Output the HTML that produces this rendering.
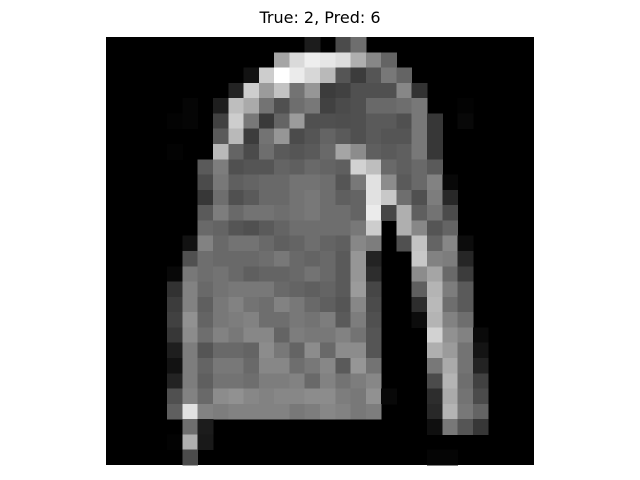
<!DOCTYPE html>
<html><head><meta charset="utf-8"><style>
html,body{margin:0;padding:0;background:#fff;width:640px;height:480px;overflow:hidden}
</style></head><body>
<svg id="chart" width="640" height="480" xmlns="http://www.w3.org/2000/svg">
<rect width="640" height="480" fill="#fff"/>
<text x="320" y="23" text-anchor="middle" font-family="DejaVu Sans, Liberation Sans, sans-serif" font-size="16" fill="#000">True: 2, Pred: 6</text>
<g id="cells" shape-rendering="crispEdges"></g>
</svg>
<script>
const rowsTop = [
[0,0,0,0,0,0,0,0,0,0,0,0,0,28,0,75,110,0,0,0,0,0,0,0,0,0,0,0],
[0,0,0,0,0,0,0,0,0,0,0,165,218,238,230,220,175,135,100,0,0,0,0,0,0,0,0,0],
[0,0,0,0,0,0,0,0,0,18,205,255,235,215,185,85,60,85,120,100,0,0,0,0,0,0,0,0],
[0,0,0,0,0,0,0,0,35,205,155,195,115,150,60,65,80,80,80,135,50,0,0,0,0,0,0,0],
[0,0,0,0,0,5,0,30,190,170,115,80,110,120,65,75,80,105,105,110,120,0,0,3,0,0,0,0],
[0,0,0,0,3,5,0,65,205,120,58,100,155,80,80,78,80,90,90,80,120,55,0,8,0,0,0,0],
[0,0,0,0,0,0,0,90,185,60,115,150,75,85,100,90,80,90,85,85,120,55,0,0,0,0,0,0],
[0,0,0,0,3,0,0,185,100,75,110,90,85,90,105,165,140,95,90,95,120,55,0,0,0,0,0,0],
[0,0,0,0,0,0,90,125,80,85,85,100,95,105,100,95,210,190,105,95,105,90,0,0,0,0,0,0],
[0,0,0,0,0,0,75,120,95,100,105,105,115,115,110,85,120,225,140,90,105,130,8,0,0,0,0,0],
[0,0,0,0,0,0,55,110,80,90,105,105,115,120,110,95,100,225,200,110,80,125,40,0,0,0,0,0],
[0,0,0,0,0,0,90,125,105,115,115,110,115,120,110,110,100,235,70,175,95,115,75,0,0,0,0,0],
[0,0,0,0,0,0,105,100,85,80,90,100,110,110,110,110,120,205,0,175,135,85,100,0,0,0,0,0],
[0,0,0,0,0,18,130,105,115,115,105,95,100,110,100,95,135,125,0,80,195,100,135,12,0,0,0,0]
];
const rowsBottom = [
[0,0,0,0,0,80,110,105,105,105,110,120,105,100,105,90,150,35,0,0,200,130,125,38,0,0,0,0],
[0,0,0,0,8,120,110,115,105,95,100,100,105,115,105,90,150,45,0,0,140,165,105,60,0,0,0,0],
[0,0,0,0,50,130,105,115,120,120,120,105,100,95,100,90,155,70,0,0,95,180,125,90,0,0,0,0],
[0,0,0,0,60,130,95,120,130,115,110,130,120,105,95,85,135,75,0,0,45,185,110,90,0,0,0,0],
[0,0,0,0,65,145,100,120,125,130,110,110,120,115,125,90,125,80,0,0,12,180,130,110,0,0,0,0],
[0,0,0,0,55,140,110,130,120,135,135,100,125,120,120,130,115,85,0,0,0,210,145,130,10,0,0,0],
[0,0,0,0,30,125,85,105,105,100,140,120,100,140,105,140,140,85,0,0,0,175,155,115,20,0,0,0],
[0,0,0,0,18,125,100,120,120,105,135,135,110,120,135,90,150,115,0,0,0,120,170,115,35,0,0,0],
[0,0,0,0,35,125,95,115,115,110,125,125,130,105,130,115,125,135,0,0,0,75,180,110,65,0,0,0],
[0,0,0,0,80,130,105,140,145,135,130,135,135,140,140,125,120,145,8,0,0,45,170,115,75,0,0,0],
[0,0,0,0,95,225,130,125,130,130,130,130,120,125,135,130,120,125,0,0,0,40,180,120,100,0,0,0],
[0,0,0,0,0,110,28,0,0,0,0,0,0,0,0,0,0,0,0,0,0,15,120,85,55,0,0,0],
[0,0,0,0,3,175,25,0,0,0,0,0,0,0,0,0,0,0,0,0,0,0,0,0,0,0,0,0],
[0,0,0,0,0,75,0,0,0,0,0,0,0,0,0,0,0,0,0,0,0,5,5,0,0,0,0,0]
];
const pixels = rowsTop.concat(rowsBottom);
const x0 = 106, y0 = 37, size = 428;
const n = 28;
function xPos(c){ return x0 + c * size / n; }
function yPos(r){ return y0 + r * size / n; }
const g = document.getElementById('cells');
const NS = 'http://www.w3.org/2000/svg';
const bg = document.createElementNS(NS, 'rect');


bg.setAttribute('x', x0); bg.setAttribute('y', y0);
bg.setAttribute('width', size); bg.setAttribute('height', size);
bg.setAttribute('fill', '#000');
g.appendChild(bg);
pixels.forEach((row, r) => {
  row.forEach((v, c) => {
    if (v <= 0) return;
    const rect = document.createElementNS(NS, 'rect');
    
    
    rect.setAttribute('x', xPos(c));
    rect.setAttribute('y', yPos(r));
    rect.setAttribute('width', xPos(c + 1) - xPos(c) + 0.5);
    rect.setAttribute('height', yPos(r + 1) - yPos(r) + 0.5);
    const gv = Math.round(Math.max(0, Math.min(255, v)));
    rect.setAttribute('fill', `rgb(${gv},${gv},${gv})`);
    g.appendChild(rect);
  });
});
</script>
</body></html>
